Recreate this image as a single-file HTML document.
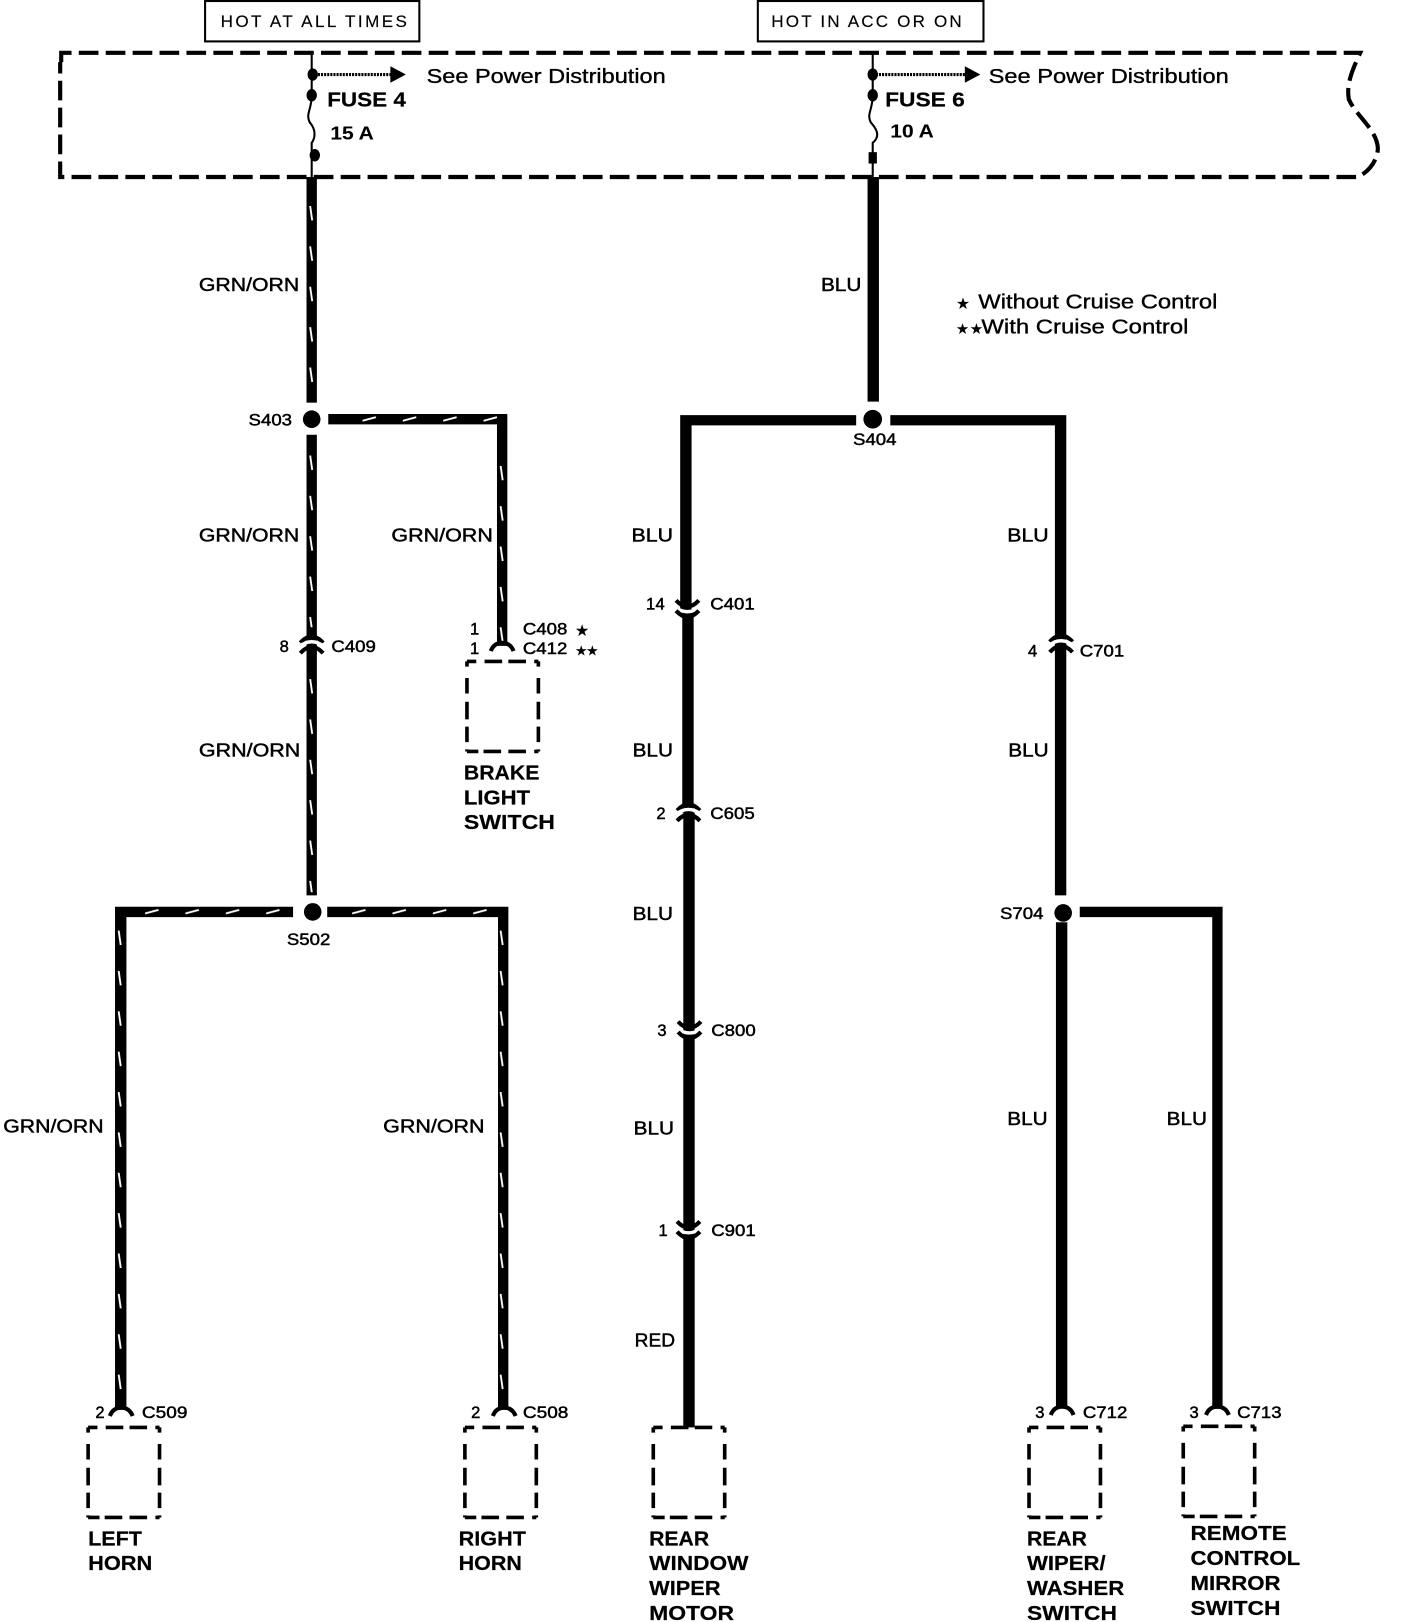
<!DOCTYPE html>
<html><head><meta charset="utf-8"><style>
html,body{margin:0;padding:0;background:#fff}
svg{display:block}
text{font-family:"Liberation Sans",sans-serif;fill:#000;stroke:#000;stroke-width:.35}
.b{font-size:20px;font-weight:bold;stroke-width:.2}
.n{font-size:20px}
.l{font-size:18px;stroke-width:.45}
.s{font-size:16px;stroke-width:.45}
.t{font-size:16.5px;stroke-width:.15}
</style></head><body>
<svg width="1408" height="1622" viewBox="0 0 1360 1567" xmlns="http://www.w3.org/2000/svg">
<defs>
<pattern id="v" patternUnits="userSpaceOnUse" width="12" height="39"><line x1="4.5" y1="0" x2="6.5" y2="14" stroke="#fff" stroke-width="1.8"/></pattern>
<pattern id="h" patternUnits="userSpaceOnUse" width="39" height="10"><line x1="0" y1="6.5" x2="13" y2="3" stroke="#fff" stroke-width="1.8"/></pattern>
<g id="cap" fill="none" stroke-width="4">
<path d="M-11 -2Q0 -14 11 -2" stroke="#000"/>
<path d="M-14 3Q0 -9 14 3" stroke="#fff" stroke-width="3.2"/>
<path d="M-11 8Q0 -4 11 8" stroke="#000"/>
</g>
<g id="cup" fill="none" stroke-width="4">
<path d="M-11 -8Q0 4 11 -8" stroke="#000"/>
<path d="M-14 -3Q0 9 14 -3" stroke="#fff" stroke-width="3.2"/>
<path d="M-11 2Q0 14 11 2" stroke="#000"/>
</g>
<path id="term" d="M-11 9Q-8 1 0 1Q8 1 11 9" fill="none" stroke="#000" stroke-width="4"/>
<g id="box" fill="none" stroke="#000" stroke-width="3.5">
<path d="M0 0H69" stroke-dasharray="9 8 17 6 17 8 10 0"/>
<path d="M0 87H69" stroke-dasharray="11 5 17 7 17 8 8 0"/>
<path d="M0 0V87" stroke-dasharray="5 11 15 8 17 7 15 7 8 0"/>
<path d="M69 0V87" stroke-dasharray="5 11 15 8 17 7 15 7 8 0"/>
</g>
</defs>
<rect width="1360" height="1567" fill="#fff"/>

<!-- header boxes -->
<rect x="198" y="1" width="207" height="39" fill="none" stroke="#000" stroke-width="2"/>
<rect x="732" y="1" width="218" height="39" fill="none" stroke="#000" stroke-width="2"/>
<text class="t" x="213" y="26" textLength="180" lengthAdjust="spacing">HOT AT ALL TIMES</text>
<text class="t" x="745" y="26" textLength="184" lengthAdjust="spacing">HOT IN ACC OR ON</text>

<!-- dashed power box -->
<path d="M59 60V51H1314C1308 64 1300 80 1303 96C1310 112 1330 125 1331 143C1331 155 1322 166 1312 171H58V60" fill="none" stroke="#000" stroke-width="4" stroke-dasharray="19 7"/>

<!-- fuse feeds -->
<g fill="none" stroke="#000" stroke-width="2">
<path d="M301 50V92C301 106 295 110 299 118C306 126 304 134 301 138V172"/>
<path d="M843 50V92C843 106 837 110 841 118C848 126 850 132 843 138V172"/>
<path d="M301 72H380" stroke-dasharray="2 1" stroke-width="3"/>
<path d="M843 72H935" stroke-dasharray="2 1" stroke-width="3"/>
</g>
<g fill="#000">
<ellipse cx="302" cy="72" rx="5" ry="6"/><ellipse cx="301" cy="92" rx="5" ry="6"/><ellipse cx="304" cy="150" rx="5" ry="6"/>
<ellipse cx="843" cy="72" rx="5" ry="6"/><ellipse cx="843" cy="92" rx="5" ry="6"/><rect x="839" y="147" width="8" height="11"/>
<path d="M377 64L392 72L377 80Z"/><path d="M932 64L947 72L932 80Z"/>
</g>
<text class="n" x="412" y="80" textLength="231" lengthAdjust="spacingAndGlyphs">See Power Distribution</text>
<text class="n" x="955" y="80" textLength="232" lengthAdjust="spacingAndGlyphs">See Power Distribution</text>
<text class="b" x="316" y="103" textLength="76" lengthAdjust="spacingAndGlyphs">FUSE 4</text>
<text class="b" x="855" y="103" textLength="77" lengthAdjust="spacingAndGlyphs">FUSE 6</text>
<text class="s" x="319" y="135" textLength="42" lengthAdjust="spacingAndGlyphs" style="font-weight:bold;font-size:18px;stroke-width:.1">15 A</text>
<text class="s" x="860" y="133" textLength="42" lengthAdjust="spacingAndGlyphs" style="font-weight:bold;font-size:18px;stroke-width:.1">10 A</text>

<!-- wires -->
<g fill="#000">
<rect x="296" y="171" width="10" height="218"/>
<rect x="296" y="420" width="10" height="445"/>
<path d="M317 400H490V624H480V410H317Z"/>
<path d="M283 876H111V1362H122V886H283Z"/>
<path d="M316 876H491V1362H481V886H316Z"/>
<rect x="838" y="171" width="11" height="217"/>
<path d="M827 401H657V590H668V411H827Z"/>
<path d="M860 401H1030V625H1019V411H860Z"/>
<rect x="659" y="590" width="11" height="195"/>
<rect x="660" y="785" width="11" height="594"/>
<rect x="1019" y="622" width="11" height="243"/>
<rect x="1020" y="891" width="11" height="468"/>
<path d="M1043 876H1181V1361H1171V886H1043Z"/>
<circle cx="301" cy="405" r="8.5"/><circle cx="302" cy="881" r="8.5"/><circle cx="843" cy="405" r="9"/><circle cx="1027" cy="882" r="8.5"/>
</g>

<!-- tracer stripes -->
<rect transform="translate(295,199)" width="12" height="186" fill="url(#v)"/>
<rect transform="translate(295,440)" width="12" height="166" fill="url(#v)"/>
<rect transform="translate(295,656)" width="12" height="206" fill="url(#v)"/>
<rect transform="translate(479,450)" width="12" height="170" fill="url(#v)"/>
<rect transform="translate(110,899)" width="12" height="456" fill="url(#v)"/>
<rect transform="translate(479,899)" width="12" height="456" fill="url(#v)"/>
<rect transform="translate(350,400)" width="130" height="10" fill="url(#h)"/>
<rect transform="translate(140,876)" width="130" height="10" fill="url(#h)"/>
<rect transform="translate(340,876)" width="140" height="10" fill="url(#h)"/>

<!-- connector arcs -->
<use href="#cap" x="301" y="623"/>
<use href="#cap" x="1025" y="622"/>
<use href="#cap" x="665" y="785"/>
<use href="#cup" x="664" y="588"/>
<use href="#cup" x="666" y="995"/>
<use href="#cup" x="665" y="1188"/>
<use href="#term" x="485" y="620"/>
<use href="#term" x="117" y="1359"/>
<use href="#term" x="487" y="1359"/>
<use href="#term" x="1026" y="1358"/>
<use href="#term" x="1176" y="1358"/>

<!-- component boxes -->
<use href="#box" x="451" y="639"/>
<use href="#box" x="85" y="1379"/>
<use href="#box" x="449" y="1379"/>
<use href="#box" x="631" y="1379"/>
<use href="#box" x="994" y="1379"/>
<use href="#box" x="1143" y="1378"/>

<!-- wire labels -->
<text class="l" x="192" y="281" textLength="97" lengthAdjust="spacingAndGlyphs">GRN/ORN</text>
<text class="l" x="793" y="281" textLength="39" lengthAdjust="spacingAndGlyphs">BLU</text>
<text class="l" x="192" y="523" textLength="97" lengthAdjust="spacingAndGlyphs">GRN/ORN</text>
<text class="l" x="378" y="523" textLength="98" lengthAdjust="spacingAndGlyphs">GRN/ORN</text>
<text class="l" x="610" y="523" textLength="40" lengthAdjust="spacingAndGlyphs">BLU</text>
<text class="l" x="973" y="523" textLength="40" lengthAdjust="spacingAndGlyphs">BLU</text>
<text class="l" x="192" y="731" textLength="98" lengthAdjust="spacingAndGlyphs">GRN/ORN</text>
<text class="l" x="611" y="731" textLength="39" lengthAdjust="spacingAndGlyphs">BLU</text>
<text class="l" x="974" y="731" textLength="39" lengthAdjust="spacingAndGlyphs">BLU</text>
<text class="l" x="611" y="889" textLength="39" lengthAdjust="spacingAndGlyphs">BLU</text>
<text class="l" x="3" y="1094" textLength="97" lengthAdjust="spacingAndGlyphs">GRN/ORN</text>
<text class="l" x="370" y="1094" textLength="98" lengthAdjust="spacingAndGlyphs">GRN/ORN</text>
<text class="l" x="612" y="1096" textLength="39" lengthAdjust="spacingAndGlyphs">BLU</text>
<text class="l" x="973" y="1087" textLength="39" lengthAdjust="spacingAndGlyphs">BLU</text>
<text class="l" x="1127" y="1087" textLength="39" lengthAdjust="spacingAndGlyphs">BLU</text>
<text class="l" x="613" y="1301" textLength="39" lengthAdjust="spacingAndGlyphs">RED</text>

<!-- splice labels -->
<text class="s" x="240" y="411" textLength="42" lengthAdjust="spacingAndGlyphs">S403</text>
<text class="s" x="824" y="430" textLength="42" lengthAdjust="spacingAndGlyphs">S404</text>
<text class="s" x="277" y="913" textLength="42" lengthAdjust="spacingAndGlyphs">S502</text>
<text class="s" x="966" y="888" textLength="42" lengthAdjust="spacingAndGlyphs">S704</text>

<!-- connector labels -->
<text class="s" x="270" y="630">8</text>
<text class="s" x="320" y="630" textLength="43" lengthAdjust="spacingAndGlyphs">C409</text>
<text class="s" x="454" y="613">1</text>
<text class="s" x="454" y="632">1</text>
<text class="s" x="505" y="613" textLength="43" lengthAdjust="spacingAndGlyphs">C408</text>
<text class="s" x="505" y="632" textLength="43" lengthAdjust="spacingAndGlyphs">C412</text>
<text class="s" x="556" y="614" style="font-size:14px">★</text>
<text class="s" x="556" y="633" style="font-size:12px">★★</text>
<text class="s" x="624" y="589" textLength="18" lengthAdjust="spacing">14</text>
<text class="s" x="686" y="589" textLength="43" lengthAdjust="spacingAndGlyphs">C401</text>
<text class="s" x="634" y="791">2</text>
<text class="s" x="686" y="791" textLength="43" lengthAdjust="spacingAndGlyphs">C605</text>
<text class="s" x="635" y="1001">3</text>
<text class="s" x="687" y="1001" textLength="43" lengthAdjust="spacingAndGlyphs">C800</text>
<text class="s" x="636" y="1194">1</text>
<text class="s" x="687" y="1194" textLength="43" lengthAdjust="spacingAndGlyphs">C901</text>
<text class="s" x="993" y="634">4</text>
<text class="s" x="1043" y="634" textLength="43" lengthAdjust="spacingAndGlyphs">C701</text>
<text class="s" x="92" y="1370">2</text>
<text class="s" x="137" y="1370" textLength="44" lengthAdjust="spacingAndGlyphs">C509</text>
<text class="s" x="455" y="1370">2</text>
<text class="s" x="505" y="1370" textLength="44" lengthAdjust="spacingAndGlyphs">C508</text>
<text class="s" x="1000" y="1370">3</text>
<text class="s" x="1046" y="1370" textLength="43" lengthAdjust="spacingAndGlyphs">C712</text>
<text class="s" x="1149" y="1370">3</text>
<text class="s" x="1195" y="1370" textLength="43" lengthAdjust="spacingAndGlyphs">C713</text>

<!-- legend -->
<text class="n" x="924" y="298" style="font-size:14px">★</text>
<text class="n" x="945" y="298" textLength="231" lengthAdjust="spacingAndGlyphs">Without Cruise Control</text>
<text class="n" x="924" y="322" style="font-size:13px" textLength="25">★★</text>
<text class="n" x="948" y="322" textLength="200" lengthAdjust="spacingAndGlyphs">With Cruise Control</text>

<!-- component names -->
<text class="b" x="448" y="753" textLength="73" lengthAdjust="spacingAndGlyphs">BRAKE</text>
<text class="b" x="448" y="777" textLength="64" lengthAdjust="spacingAndGlyphs">LIGHT</text>
<text class="b" x="448" y="801" textLength="88" lengthAdjust="spacingAndGlyphs">SWITCH</text>
<text class="b" x="85" y="1493" textLength="52" lengthAdjust="spacingAndGlyphs">LEFT</text>
<text class="b" x="85" y="1517" textLength="62" lengthAdjust="spacingAndGlyphs">HORN</text>
<text class="b" x="443" y="1493" textLength="65" lengthAdjust="spacingAndGlyphs">RIGHT</text>
<text class="b" x="443" y="1517" textLength="61" lengthAdjust="spacingAndGlyphs">HORN</text>
<text class="b" x="627" y="1493" textLength="58" lengthAdjust="spacingAndGlyphs">REAR</text>
<text class="b" x="627" y="1517" textLength="96" lengthAdjust="spacingAndGlyphs">WINDOW</text>
<text class="b" x="627" y="1541" textLength="69" lengthAdjust="spacingAndGlyphs">WIPER</text>
<text class="b" x="627" y="1565" textLength="82" lengthAdjust="spacingAndGlyphs">MOTOR</text>
<text class="b" x="992" y="1493" textLength="58" lengthAdjust="spacingAndGlyphs">REAR</text>
<text class="b" x="992" y="1517" textLength="76" lengthAdjust="spacingAndGlyphs">WIPER/</text>
<text class="b" x="992" y="1541" textLength="94" lengthAdjust="spacingAndGlyphs">WASHER</text>
<text class="b" x="992" y="1565" textLength="87" lengthAdjust="spacingAndGlyphs">SWITCH</text>
<text class="b" x="1150" y="1488" textLength="93" lengthAdjust="spacingAndGlyphs">REMOTE</text>
<text class="b" x="1150" y="1512" textLength="106" lengthAdjust="spacingAndGlyphs">CONTROL</text>
<text class="b" x="1150" y="1536" textLength="87" lengthAdjust="spacingAndGlyphs">MIRROR</text>
<text class="b" x="1150" y="1560" textLength="87" lengthAdjust="spacingAndGlyphs">SWITCH</text>
</svg>
</body></html>
